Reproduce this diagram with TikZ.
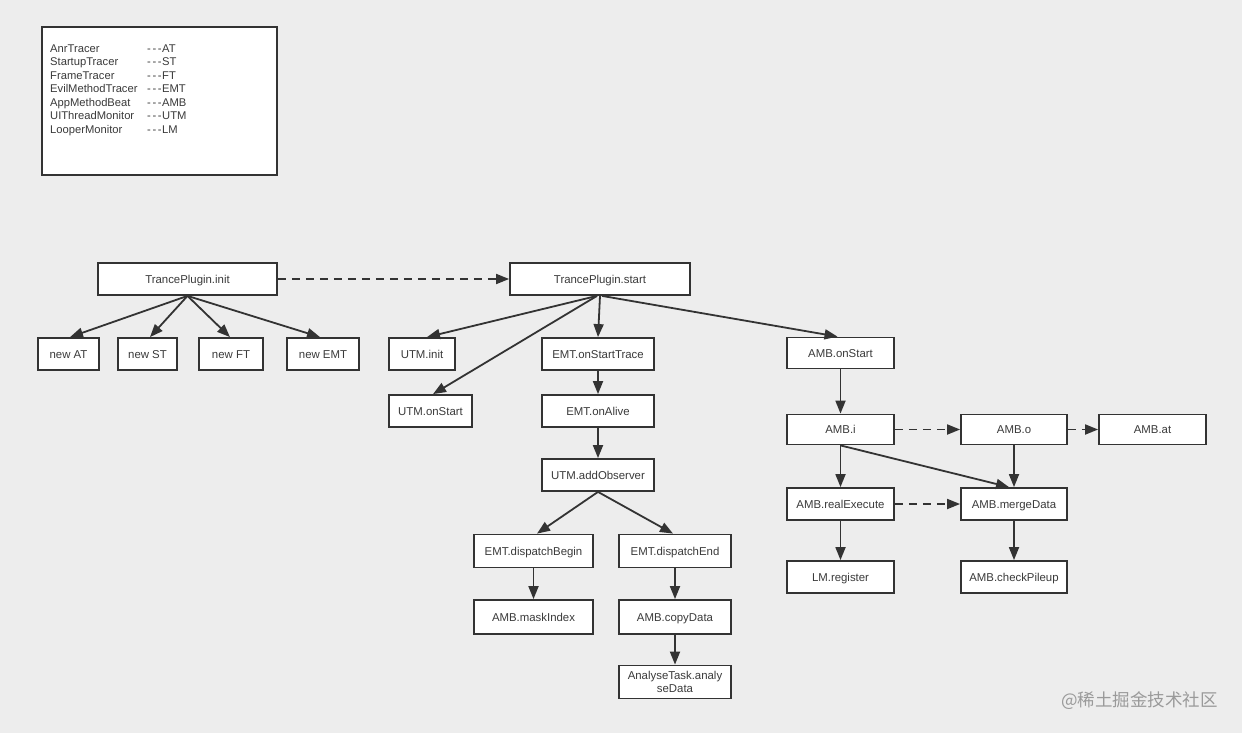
\documentclass[tikz,border=0pt]{standalone}
\usepackage{fontspec}
\setmainfont{Liberation Sans}
\newfontfamily\cjkwm{Noto Sans CJK SC}
\usetikzlibrary{arrows.meta,calc}
\definecolor{bgc}{HTML}{EDEDED}
\definecolor{ink}{HTML}{333333}
\definecolor{txt}{HTML}{3A3A3A}
\definecolor{wmc}{HTML}{9A9A9A}
\newcommand{\dsh}{-\kern1.6pt-\kern1.6pt-\kern0.6pt}
\begin{document}
\begin{tikzpicture}[x=1pt,y=-1pt,
  boxbase/.style={draw=ink,line width=1.8pt,fill=white,rectangle,inner sep=1pt,minimum height=32pt,font=\fontsize{11.4}{13.5}\selectfont,text=txt},
  box/.style={boxbase,text height=10pt,text depth=2pt},
  arr/.style={draw=ink,line width=1.8pt,-{Triangle[length=13pt,width=10pt]}},
  darr/.style={arr,dash pattern=on 8pt off 6pt},
  leg/.style={anchor=west,inner sep=0pt,text height=8pt,text depth=2pt,font=\fontsize{11.2}{13}\selectfont,text=txt}]
\fill[bgc] (0,0) rectangle (1242,733);
\useasboundingbox (0,0) rectangle (1242,733);
% legend
\node[draw=ink,line width=1.8pt,fill=white,minimum width=235pt,minimum height=148pt,inner sep=0pt] (legend) at (159.5,101) {};
\foreach \n/\a/\b [count=\i from 0] in {AnrTracer/AT/49.5,StartupTracer/ST/63,FrameTracer/FT/76.5,EvilMethodTracer/EMT/90,AppMethodBeat/AMB/103.5,UIThreadMonitor/UTM/117,LooperMonitor/LM/130.5}{
  \node[leg] (ln\i) at (50,\b) {\n};
  \node[leg] (la\i) at (147,\b) {\dsh\a};
}
% nodes
\node[box,minimum width=179pt] (init) at (187.5,279) {TrancePlugin.init};
\node[box,minimum width=180pt] (start) at (600,279) {TrancePlugin.start};
\node[box,minimum width=61pt] (nat) at (68.5,354) {new AT};
\node[box,minimum width=59pt] (nst) at (147.5,354) {new ST};
\node[box,minimum width=64pt] (nft) at (231,354) {new FT};
\node[box,minimum width=72pt] (nemt) at (323,354) {new EMT};
\node[box,minimum width=66pt] (utminit) at (422,354) {UTM.init};
\node[box,minimum width=83pt] (utmstart) at (430.5,411) {UTM.onStart};
\node[box,minimum width=112pt] (emtst) at (598,354) {EMT.onStartTrace};
\node[box,minimum width=112pt] (emtal) at (598,411) {EMT.onAlive};
\node[box,minimum width=112pt] (utmobs) at (598,475) {UTM.addObserver};
\node[box,minimum width=119pt,minimum height=33pt] (dbegin) at (533.5,551) {EMT.dispatchBegin};
\node[box,minimum width=112pt,minimum height=33pt] (dend) at (675,551) {EMT.dispatchEnd};
\node[box,minimum width=119pt,minimum height=34pt] (mask) at (533.5,617) {AMB.maskIndex};
\node[box,minimum width=112pt,minimum height=34pt] (copy) at (675,617) {AMB.copyData};
\node[boxbase,align=center,minimum width=112pt,minimum height=33pt,font=\fontsize{11.4}{13.5}\selectfont] (anal) at (675,682) {AnalyseTask.analy\\seData};
\node[box,minimum width=107pt,minimum height=31pt] (ambst) at (840.5,353) {AMB.onStart};
\node[box,minimum width=107pt,minimum height=30pt] (ambi) at (840.5,429.5) {AMB.i};
\node[box,minimum width=106pt,minimum height=30pt] (ambo) at (1014,429.5) {AMB.o};
\node[box,minimum width=107pt,minimum height=30pt] (ambat) at (1152.5,429.5) {AMB.at};
\node[box,minimum width=107pt,minimum height=32pt] (real) at (840.5,504) {AMB.realExecute};
\node[box,minimum width=106pt,minimum height=32pt] (merge) at (1014,504) {AMB.mergeData};
\node[box,minimum width=107pt,minimum height=32pt] (lmreg) at (840.5,577) {LM.register};
\node[box,minimum width=106pt,minimum height=32pt] (pile) at (1014,577) {AMB.checkPileup};
% edges
\draw[arr] (init.south) -- ($(nat.north)+(1.5,0)$);
\draw[arr] (init.south) -- ($(nst.north)+(2.5,0)$);
\draw[arr] (init.south) -- ($(nft.north)+(-1,0)$);
\draw[arr] (init.south) -- ($(nemt.north)+(-3,0)$);
\draw[darr] (init.east) -- (start.west);
\draw[arr] ($(start.south)+(-3,0)$) -- ($(utminit.north)+(5,0)$);
\draw[arr] ($(start.south)+(-3,0)$) -- ($(utmstart.north)+(2.5,0)$);
\draw[arr] ($(start.south)+(0,0)$) -- (emtst.north);
\draw[arr] ($(start.south)+(2,0)$) -- ($(ambst.north)+(-3,0)$);
\draw[arr] (emtst) -- (emtal);
\draw[arr] (emtal) -- (utmobs);
\draw[arr] (utmobs.south) -- ($(dbegin.north)+(3.5,0)$);
\draw[arr] (utmobs.south) -- ($(dend.north)+(-2,0)$);
\draw[arr] (dbegin) -- (mask);
\draw[arr] (dend) -- (copy);
\draw[arr] (copy) -- (anal);
\draw[arr] (ambst) -- (ambi);
\draw[darr] (ambi) -- (ambo);
\draw[darr] (ambo) -- (ambat);
\draw[arr] (ambi) -- (real);
\draw[arr] (ambi.south) -- ($(merge.north)+(-5,0)$);
\draw[arr] (ambo) -- (merge);
\draw[darr] (real) -- (merge);
\draw[arr] (real) -- (lmreg);
\draw[arr] (merge) -- (pile);
% watermark
\node[anchor=west,inner sep=0pt,text=wmc,font=\cjkwm\fontsize{17.5}{20}\selectfont] (wm) at (1061,701) {@稀土掘金技术社区};
\end{tikzpicture}
\end{document}
